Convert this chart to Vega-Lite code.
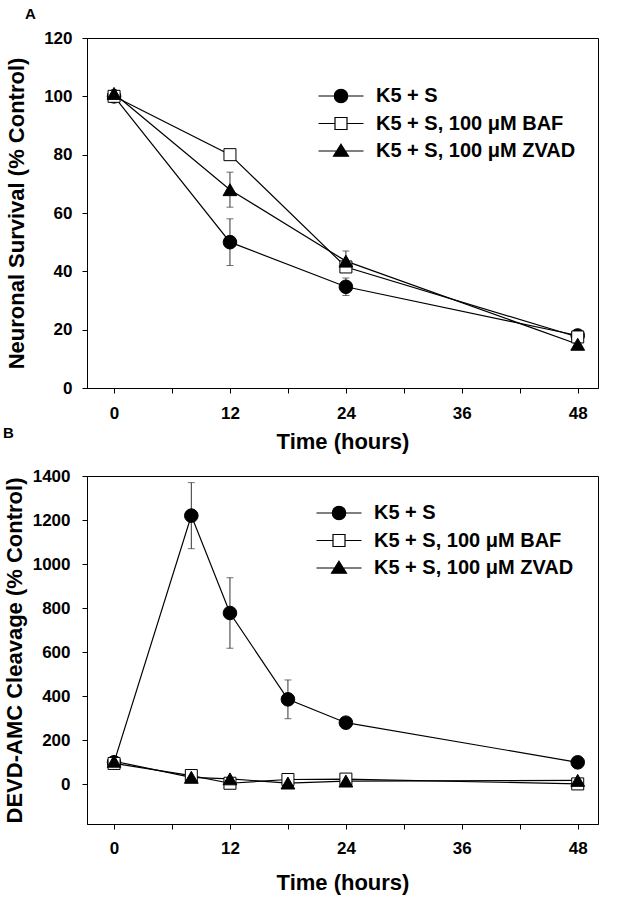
{
  "$schema": "https://vega.github.io/schema/vega-lite/v6.json",
  "background": "white",
  "padding": {"left": 2, "top": 6, "right": 5, "bottom": 5},
  "spacing": -28,
  "resolve": {"scale": {"shape": "independent", "fill": "independent", "stroke": "independent"}, "legend": {"shape": "independent", "fill": "independent", "stroke": "independent"}},
  "config": {
    "font": "Liberation Sans",
    "view": {"stroke": "black", "strokeWidth": 1},
    "axis": {
      "grid": false,
      "domainColor": "black",
      "tickColor": "black",
      "labelColor": "black",
      "titleColor": "black",
      "labelFont": "Liberation Sans",
      "titleFont": "Liberation Sans",
      "labelFontWeight": "bold",
      "titleFontWeight": "bold",
      "labelFontSize": 17,
      "titleFontSize": 22,
      "tickSize": 5,
      "domainWidth": 1,
      "tickWidth": 1
    },
    "legend": {
      "labelFont": "Liberation Sans",
      "labelFontWeight": "bold",
      "labelFontSize": 20,
      "labelColor": "black",
      "labelLimit": 400,
      "symbolStrokeColor": "black",
      "symbolStrokeWidth": 1.2,
      "symbolOpacity": 1
    }
  },
  "datasets": {
    "a": [
      {"series": "K5 + S", "time": 0, "value": 100, "err": 0},
      {"series": "K5 + S", "time": 12, "value": 50, "err": 8},
      {"series": "K5 + S", "time": 24, "value": 34.7, "err": 3},
      {"series": "K5 + S", "time": 48, "value": 18, "err": 0},
      {"series": "K5 + S, 100 μM BAF", "time": 0, "value": 100, "err": 0},
      {"series": "K5 + S, 100 μM BAF", "time": 12, "value": 80, "err": 0},
      {"series": "K5 + S, 100 μM BAF", "time": 24, "value": 41.5, "err": 0},
      {"series": "K5 + S, 100 μM BAF", "time": 48, "value": 17.5, "err": 0},
      {"series": "K5 + S, 100 μM ZVAD", "time": 0, "value": 101, "err": 0},
      {"series": "K5 + S, 100 μM ZVAD", "time": 12, "value": 68, "err": 6},
      {"series": "K5 + S, 100 μM ZVAD", "time": 24, "value": 43.5, "err": 3.5},
      {"series": "K5 + S, 100 μM ZVAD", "time": 48, "value": 15, "err": 0}
    ],
    "b": [
      {"series": "K5 + S", "time": 0, "value": 100, "err": 0},
      {"series": "K5 + S", "time": 8, "value": 1220, "err": 150},
      {"series": "K5 + S", "time": 12, "value": 778, "err": 160},
      {"series": "K5 + S", "time": 18, "value": 386, "err": 88},
      {"series": "K5 + S", "time": 24, "value": 280, "err": 0},
      {"series": "K5 + S", "time": 48, "value": 100, "err": 0},
      {"series": "K5 + S, 100 μM BAF", "time": 0, "value": 95, "err": 0},
      {"series": "K5 + S, 100 μM BAF", "time": 8, "value": 40, "err": 0},
      {"series": "K5 + S, 100 μM BAF", "time": 12, "value": 5, "err": 0},
      {"series": "K5 + S, 100 μM BAF", "time": 18, "value": 22, "err": 0},
      {"series": "K5 + S, 100 μM BAF", "time": 24, "value": 24, "err": 0},
      {"series": "K5 + S, 100 μM BAF", "time": 48, "value": 2, "err": 0},
      {"series": "K5 + S, 100 μM ZVAD", "time": 0, "value": 105, "err": 0},
      {"series": "K5 + S, 100 μM ZVAD", "time": 8, "value": 32, "err": 0},
      {"series": "K5 + S, 100 μM ZVAD", "time": 12, "value": 25, "err": 0},
      {"series": "K5 + S, 100 μM ZVAD", "time": 18, "value": 6, "err": 0},
      {"series": "K5 + S, 100 μM ZVAD", "time": 24, "value": 15, "err": 0},
      {"series": "K5 + S, 100 μM ZVAD", "time": 48, "value": 18, "err": 0}
    ]
  },
  "vconcat": [
    {
      "width": 511,
      "height": 350,
      "title": {"text": "A", "anchor": "start", "frame": "group", "dx": -62, "offset": 7, "fontSize": 15, "fontWeight": "bold", "font": "Liberation Sans", "color": "black"},
      "data": {"name": "a"},
      "layer": [
        {
          "mark": {"type": "line", "color": "black", "strokeWidth": 1.2},
          "encoding": {
            "x": {"field": "time", "type": "quantitative", "scale": {"domain": [-2.8, 50.1], "nice": false, "zero": false},
                  "axis": {"title": "Time (hours)", "values": [0, 6, 12, 18, 24, 30, 36, 42, 48], "labelExpr": "datum.value % 12 == 0 ? datum.label : ''", "labelPadding": 12, "titlePadding": 10}},
            "y": {"field": "value", "type": "quantitative", "scale": {"domain": [0, 120], "nice": false},
                  "axis": {"title": "Neuronal Survival (% Control)", "values": [0, 20, 40, 60, 80, 100, 120], "format": "d", "labelPadding": 10, "titlePadding": 15}},
            "detail": {"field": "series"},
            "order": {"field": "time"}
          }
        },
        {
          "transform": [{"filter": "datum.err > 0"}],
          "mark": {"type": "errorbar", "color": "#333", "thickness": 1, "ticks": {"size": 7, "color": "#333", "thickness": 1}},
          "encoding": {
            "x": {"field": "time", "type": "quantitative"},
            "y": {"field": "value", "type": "quantitative", "title": "Neuronal Survival (% Control)"},
            "yError": {"field": "err"}
          }
        },
        {
          "transform": [{"filter": "datum.series === 'K5 + S'"}],
          "mark": {"type": "point", "shape": "circle", "filled": true, "fill": "black", "stroke": "black", "strokeWidth": 1, "size": 185, "opacity": 1},
          "encoding": {
            "x": {"field": "time", "type": "quantitative"},
            "y": {"field": "value", "type": "quantitative", "title": "Neuronal Survival (% Control)"}
          }
        },
        {
          "transform": [{"filter": "datum.series === 'K5 + S, 100 μM BAF'"}],
          "mark": {"type": "point", "shape": "square", "filled": true, "fill": "white", "stroke": "black", "strokeWidth": 1, "size": 144, "opacity": 1},
          "encoding": {
            "x": {"field": "time", "type": "quantitative"},
            "y": {"field": "value", "type": "quantitative", "title": "Neuronal Survival (% Control)"}
          }
        },
        {
          "transform": [{"filter": "datum.series === 'K5 + S, 100 μM ZVAD'"}],
          "mark": {"type": "point", "shape": "triangle-up", "filled": true, "fill": "black", "stroke": "black", "strokeWidth": 1, "size": 190, "opacity": 1},
          "encoding": {
            "x": {"field": "time", "type": "quantitative"},
            "y": {"field": "value", "type": "quantitative", "title": "Neuronal Survival (% Control)"}
          }
        },
        {
          "transform": [{"filter": "false"}],
          "mark": {"type": "point", "filled": true, "strokeWidth": 1.2, "opacity": 1},
          "encoding": {
            "x": {"field": "time", "type": "quantitative"},
            "y": {"field": "value", "type": "quantitative", "title": "Neuronal Survival (% Control)"},
            "shape": {"field": "series", "type": "nominal",
                      "scale": {"domain": ["K5 + S", "K5 + S, 100 μM BAF", "K5 + S, 100 μM ZVAD"],
                                "range": ["M-2.5,0H-0.745A0.745,0.745,0,1,1,0.745,0A0.745,0.745,0,1,1,-0.745,0ZM0.745,0H2.5", "M-2.5,0H-0.667M0.667,0H2.5M-0.667,-0.667H0.667V0.667H-0.667Z", "M-2.5,0H2.5M0,-0.75L0.833,0.58H-0.833Z"]},
                      "legend": {"title": null, "orient": "none", "legendX": 244, "legendY": 48, "symbolSize": 324, "rowPadding": 7.5, "labelOffset": 25}},
            "fill": {"field": "series", "type": "nominal",
                     "scale": {"domain": ["K5 + S", "K5 + S, 100 μM BAF", "K5 + S, 100 μM ZVAD"], "range": ["black", "white", "black"]},
                     "legend": {"title": null, "orient": "none", "legendX": 244, "legendY": 48, "symbolSize": 324, "rowPadding": 7.5, "labelOffset": 25}},
            "stroke": {"field": "series", "type": "nominal",
                     "scale": {"domain": ["K5 + S", "K5 + S, 100 μM BAF", "K5 + S, 100 μM ZVAD"], "range": ["black", "black", "black"]},
                     "legend": {"title": null, "orient": "none", "legendX": 244, "legendY": 48, "symbolSize": 324, "rowPadding": 7.5, "labelOffset": 25}}
          }
        }
      ]
    },
    {
      "width": 511,
      "height": 348,
      "title": {"text": "B", "anchor": "start", "frame": "group", "dx": -84, "offset": 26, "fontSize": 15, "fontWeight": "bold", "font": "Liberation Sans", "color": "black"},
      "data": {"name": "b"},
      "layer": [
        {
          "mark": {"type": "line", "color": "black", "strokeWidth": 1.2},
          "encoding": {
            "x": {"field": "time", "type": "quantitative", "scale": {"domain": [-2.8, 50.1], "nice": false, "zero": false},
                  "axis": {"title": "Time (hours)", "values": [0, 6, 12, 18, 24, 30, 36, 42, 48], "labelExpr": "datum.value % 12 == 0 ? datum.label : ''", "labelPadding": 11, "titlePadding": 16}},
            "y": {"field": "value", "type": "quantitative", "scale": {"domain": [-180, 1400], "nice": false, "zero": false},
                  "axis": {"title": "DEVD-AMC Cleavage (% Control)", "values": [0, 200, 400, 600, 800, 1000, 1200, 1400], "format": "d", "labelPadding": 12, "titlePadding": 6}},
            "detail": {"field": "series"},
            "order": {"field": "time"}
          }
        },
        {
          "transform": [{"filter": "datum.err > 0"}],
          "mark": {"type": "errorbar", "color": "#333", "thickness": 1, "ticks": {"size": 7, "color": "#333", "thickness": 1}},
          "encoding": {
            "x": {"field": "time", "type": "quantitative"},
            "y": {"field": "value", "type": "quantitative", "title": "DEVD-AMC Cleavage (% Control)"},
            "yError": {"field": "err"}
          }
        },
        {
          "transform": [{"filter": "datum.series === 'K5 + S'"}],
          "mark": {"type": "point", "shape": "circle", "filled": true, "fill": "black", "stroke": "black", "strokeWidth": 1, "size": 185, "opacity": 1},
          "encoding": {
            "x": {"field": "time", "type": "quantitative"},
            "y": {"field": "value", "type": "quantitative", "title": "DEVD-AMC Cleavage (% Control)"}
          }
        },
        {
          "transform": [{"filter": "datum.series === 'K5 + S, 100 μM BAF'"}],
          "mark": {"type": "point", "shape": "square", "filled": true, "fill": "white", "stroke": "black", "strokeWidth": 1, "size": 144, "opacity": 1},
          "encoding": {
            "x": {"field": "time", "type": "quantitative"},
            "y": {"field": "value", "type": "quantitative", "title": "DEVD-AMC Cleavage (% Control)"}
          }
        },
        {
          "transform": [{"filter": "datum.series === 'K5 + S, 100 μM ZVAD'"}],
          "mark": {"type": "point", "shape": "triangle-up", "filled": true, "fill": "black", "stroke": "black", "strokeWidth": 1, "size": 190, "opacity": 1},
          "encoding": {
            "x": {"field": "time", "type": "quantitative"},
            "y": {"field": "value", "type": "quantitative", "title": "DEVD-AMC Cleavage (% Control)"}
          }
        },
        {
          "transform": [{"filter": "false"}],
          "mark": {"type": "point", "filled": true, "strokeWidth": 1.2, "opacity": 1},
          "encoding": {
            "x": {"field": "time", "type": "quantitative"},
            "y": {"field": "value", "type": "quantitative", "title": "DEVD-AMC Cleavage (% Control)"},
            "shape": {"field": "series", "type": "nominal",
                      "scale": {"domain": ["K5 + S", "K5 + S, 100 μM BAF", "K5 + S, 100 μM ZVAD"],
                                "range": ["M-2.5,0H-0.745A0.745,0.745,0,1,1,0.745,0A0.745,0.745,0,1,1,-0.745,0ZM0.745,0H2.5", "M-2.5,0H-0.667M0.667,0H2.5M-0.667,-0.667H0.667V0.667H-0.667Z", "M-2.5,0H2.5M0,-0.75L0.833,0.58H-0.833Z"]},
                      "legend": {"title": null, "orient": "none", "legendX": 242, "legendY": 27, "symbolSize": 324, "rowPadding": 7.5, "labelOffset": 25}},
            "fill": {"field": "series", "type": "nominal",
                     "scale": {"domain": ["K5 + S", "K5 + S, 100 μM BAF", "K5 + S, 100 μM ZVAD"], "range": ["black", "white", "black"]},
                     "legend": {"title": null, "orient": "none", "legendX": 242, "legendY": 27, "symbolSize": 324, "rowPadding": 7.5, "labelOffset": 25}},
            "stroke": {"field": "series", "type": "nominal",
                     "scale": {"domain": ["K5 + S", "K5 + S, 100 μM BAF", "K5 + S, 100 μM ZVAD"], "range": ["black", "black", "black"]},
                     "legend": {"title": null, "orient": "none", "legendX": 242, "legendY": 27, "symbolSize": 324, "rowPadding": 7.5, "labelOffset": 25}}
          }
        }
      ]
    }
  ]
}
